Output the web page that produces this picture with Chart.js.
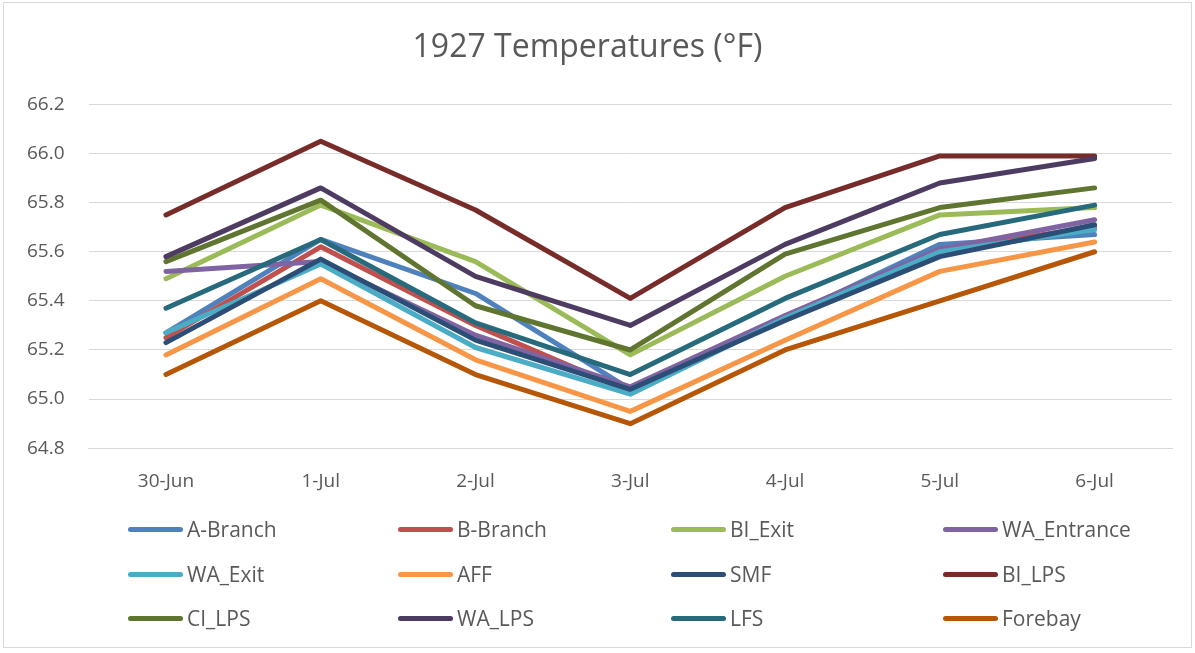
<!DOCTYPE html>
<html>
<head>
<meta charset="utf-8">
<script src="https://cdn.jsdelivr.net/npm/chart.js@4"></script>
<style>
  html, body { margin: 0; padding: 0; background: #fff; }
  #wrap { position: relative; width: 1195px; height: 653px; overflow: hidden; }
  #frame { position: absolute; left: 3px; top: 2px; width: 1187px; height: 644px; border: 1px solid #d9d9d9; }
  #chartBox { position: absolute; left: 0; top: 0; width: 1195px; height: 529px; }
  #legend { position: absolute; left: 0; top: 0; width: 1195px; height: 653px; pointer-events: none; }
  .leg { position: absolute; display: flex; align-items: center; font-family: "Open Sans", sans-serif; font-size: 21px; color: #595959; white-space: nowrap; }
  .leg .sw { width: 55px; height: 5px; border-radius: 3px; margin-right: 4px; }
</style>
</head>
<body>
<div id="wrap">
  <div id="frame"></div>
  <div id="chartBox"><canvas id="lineChart"></canvas></div>
  <div id="legend"></div>
</div>
<script>
// ── Data ──
const days = ['30-Jun', '1-Jul', '2-Jul', '3-Jul', '4-Jul', '5-Jul', '6-Jul'];

const aBranch    = [65.27, 65.65, 65.43, 65.04, 65.33, 65.63, 65.67];
const bBranch    = [65.25, 65.62, 65.30, 65.03, 65.33, 65.61, 65.70];
const biExit     = [65.49, 65.79, 65.56, 65.18, 65.50, 65.75, 65.78];
const waEntrance = [65.52, 65.56, 65.26, 65.05, 65.34, 65.61, 65.73];
const waExit     = [65.27, 65.55, 65.21, 65.02, 65.33, 65.60, 65.69];
const aff        = [65.18, 65.49, 65.16, 64.95, 65.24, 65.52, 65.64];
const smf        = [65.23, 65.57, 65.24, 65.04, 65.32, 65.58, 65.71];
const biLps      = [65.75, 66.05, 65.77, 65.41, 65.78, 65.99, 65.99];
const ciLps      = [65.56, 65.81, 65.38, 65.20, 65.59, 65.78, 65.86];
const waLps      = [65.58, 65.86, 65.50, 65.30, 65.63, 65.88, 65.98];
const lfs        = [65.37, 65.65, 65.31, 65.10, 65.41, 65.67, 65.79];
const forebay    = [65.10, 65.40, 65.10, 64.90, 65.20, 65.40, 65.60];

const seriesNames = ['A-Branch', 'B-Branch', 'BI_Exit', 'WA_Entrance', 'WA_Exit', 'AFF',
                     'SMF', 'BI_LPS', 'CI_LPS', 'WA_LPS', 'LFS', 'Forebay'];
const seriesData = [aBranch, bBranch, biExit, waEntrance, waExit, aff,
                    smf, biLps, ciLps, waLps, lfs, forebay];

// Office style palette
const PALETTE = ['#4f81bd', '#c0504d', '#9bbb59', '#8064a2', '#4bacc6', '#f79646',
                 '#2c4d75', '#772c2a', '#5f7530', '#4d3b62', '#276a7c', '#b65708'];

const TEXT = '#595959';
const FONT = '"Open Sans", sans-serif';

// ── Chart ──
const datasets = seriesNames.map((name, i) => ({
  label: name,
  data: seriesData[i],
  borderColor: PALETTE[i],
  backgroundColor: PALETTE[i],
  borderWidth: 5,
  pointRadius: 0,
  tension: 0,
  borderCapStyle: 'round',
  borderJoinStyle: 'round',
  fill: false,
  order: seriesNames.length - i   // later series drawn on top, like Excel
}));

const chart = new Chart(document.getElementById('lineChart'), {
  type: 'line',
  data: { labels: days, datasets },
  options: {
    responsive: true,
    maintainAspectRatio: false,
    animation: false,
    layout: { padding: { left: 3, right: 23, top: 14, bottom: 14 } },
    plugins: {
      legend: { display: false },
      tooltip: { enabled: false },
      title: {
        display: true,
        text: '1927 Temperatures (°F)',
        color: TEXT,
        font: { family: FONT, size: 32, weight: 'normal' },
        padding: { top: 15, bottom: 37 }
      }
    },
    scales: {
      x: {
        offset: true,
        grid: { display: false, drawTicks: false },
        border: { color: '#d9d9d9' },
        ticks: { color: TEXT, font: { family: FONT, size: 19 }, padding: 22 }
      },
      y: {
        min: 64.8,
        max: 66.2,
        border: { display: false },
        grid: { color: '#d9d9d9', drawTicks: false },
        ticks: {
          stepSize: 0.2,
          color: TEXT,
          font: { family: FONT, size: 19 },
          padding: 24,
          callback: v => v.toFixed(1)
        }
      }
    }
  }
});

// ── Legend (4 columns x 3 rows) ──
const colX = [128, 398, 671, 943];
const rowY = [529, 574, 618];
const legendBox = document.getElementById('legend');
seriesNames.forEach((name, i) => {
  const item = document.createElement('div');
  item.className = 'leg';
  item.style.left = colX[i % 4] + 'px';
  item.style.top = (rowY[Math.floor(i / 4)] - 14) + 'px';
  item.style.height = '28px';
  item.innerHTML = `<span class="sw" style="background:${PALETTE[i]}"></span>${name}`;
  legendBox.appendChild(item);
});
</script>
</body>
</html>
